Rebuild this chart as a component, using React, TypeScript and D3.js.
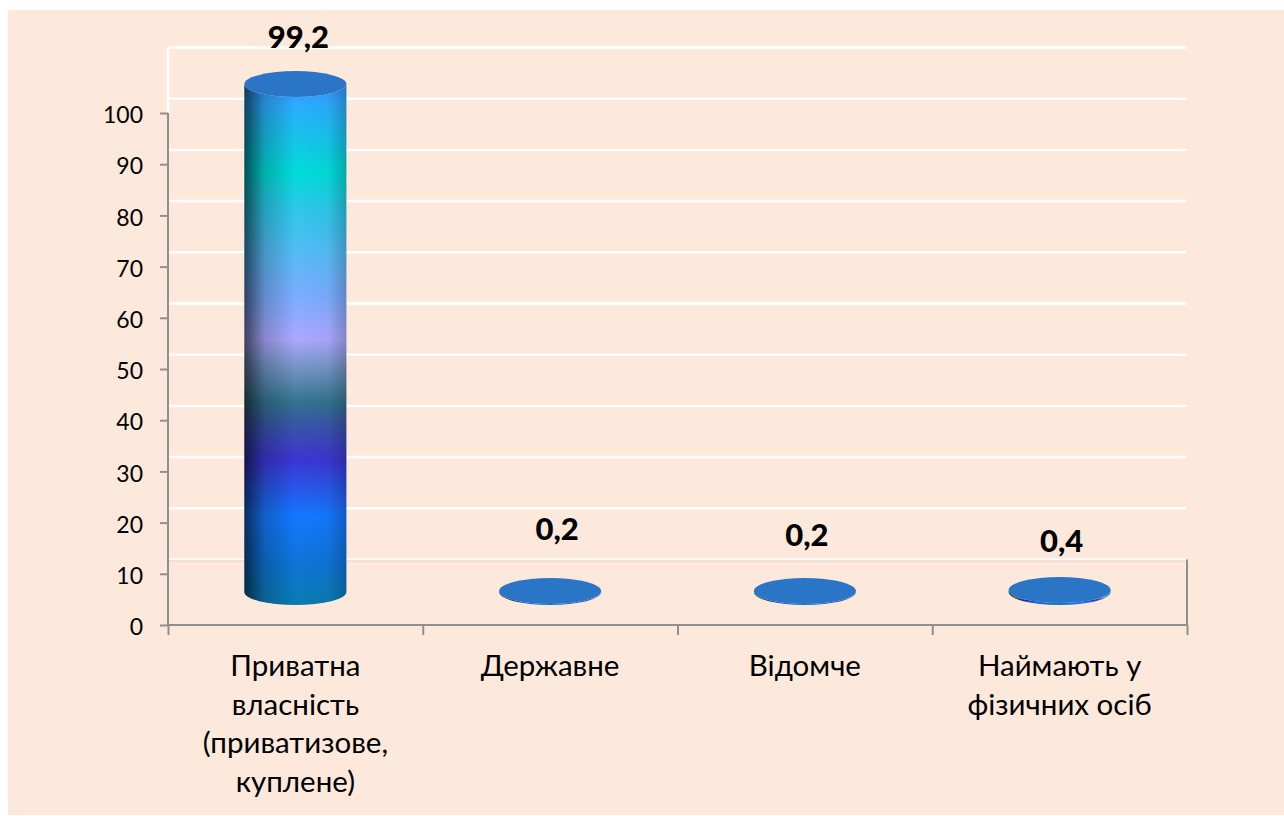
import React, { useEffect, useRef } from "react";
import * as d3 from "d3";

const categories = [
  ["Приватна", "власність", "(приватизове,", "куплене)"],
  ["Державне"],
  ["Відомче"],
  ["Наймають у", "фізичних осіб"],
];
const values = [99.2, 0.2, 0.2, 0.4];
const valueLabels = ["99,2", "0,2", "0,2", "0,4"];
const ticks = [0, 10, 20, 30, 40, 50, 60, 70, 80, 90, 100];

// stops of the big cylinder from top to bottom
const stopOffsets = [0, 0.04, 0.17, 0.24, 0.33, 0.41, 0.49, 0.54, 0.61, 0.65, 0.72, 0.83, 0.92, 1];
const stopColors = ["#3394f8", "#2cacff", "#00dcd8", "#2cc8ea", "#58baf6", "#7cacff", "#aca8ff", "#7896ca", "#33748e", "#3858a4", "#3c35d2", "#1478ff", "#0e74d8", "#0a7cb0"];

const width = 1284;
const height = 816;
const font = "Lato, 'Noto Sans', sans-serif";
const left = 168;
const right = 1187;
const depth = 65.5; // how far the back wall sits above the front axis
const barShift = 33;
const rx = 51;
const ry = 13;
// the labels were placed by hand in the original, so they do not follow the bars
const labelY = [48, 540, 546, 552];
const labelNudge = [3, 7, 2, 2];

export default function App() {
  const axisRef = useRef<SVGGElement>(null);

  const x = d3.scaleBand<number>().domain(d3.range(categories.length)).range([left, right]);
  const y = d3.scaleLinear().domain([0, 100]).range([625, 113]);

  useEffect(() => {
    const g = d3.select(axisRef.current);
    g.selectAll("*").remove();

    const yAxis = g.append("g").attr("transform", `translate(${left},0)`)
      .call(d3.axisLeft(y).tickValues(ticks).tickSize(8).tickPadding(17).tickFormat(d => String(d)));
    yAxis.selectAll("line,path").attr("stroke", "#8f8f8f").attr("stroke-width", 2);
    yAxis.select("path").attr("d", `M0,${y(100)}V${y(0)}`);
    yAxis.selectAll("text")
      .attr("font-family", font).attr("font-size", 23).attr("fill", "#000").attr("dy", "0.42em");

    const xAxis = g.append("g").attr("transform", "translate(0,625)")
      .call(d3.axisBottom(d3.scaleLinear().domain([0, 4]).range([left, right])).ticks(4).tickSize(10).tickFormat(() => ""));
    xAxis.selectAll("line,path").attr("stroke", "#8f8f8f").attr("stroke-width", 2);
    xAxis.select("path").attr("d", `M${left},0H${right}`);
  }, []);

  return (
    <svg width={width} height={height} style={{ position: "absolute", left: 0, top: 0 }}>
      <defs>
        <linearGradient id="barColors" x1="0" y1="0" x2="0" y2="1">
          {stopOffsets.map((o, i) => <stop key={i} offset={o} stopColor={stopColors[i]} />)}
        </linearGradient>
        <linearGradient id="barShade" x1="0" y1="0" x2="1" y2="0">
          <stop offset="0" stopColor="#000" stopOpacity={0.62} />
          <stop offset="0.2" stopColor="#000" stopOpacity={0.2} />
          <stop offset="0.5" stopColor="#000" stopOpacity={0} />
          <stop offset="0.82" stopColor="#000" stopOpacity={0.03} />
          <stop offset="1" stopColor="#000" stopOpacity={0.22} />
        </linearGradient>
      </defs>

      <rect x={8} y={10} width={1276} height={805} fill="#fde9db" />

      {/* back wall */}
      {ticks.map(t => (
        <line key={t} x1={left} x2={right} y1={y(t) - depth} y2={y(t) - depth}
          stroke="#fff" strokeWidth={t === 0 ? 2 : 2.5} />
      ))}
      <line x1={left} x2={left} y1={y(100) - depth} y2={y(100)} stroke="#fff" strokeWidth={2.5} />
      <line x1={left - 2} x2={right} y1={y(0) - depth + 1.5} y2={y(0) - depth + 1.5} stroke="#d9d4cf" strokeWidth={1} />
      <line x1={right} x2={right} y1={y(0) - depth} y2={y(0)} stroke="#8f8f8f" strokeWidth={2} />

      <g ref={axisRef} />

      {values.map((v, i) => {
        const cx = x(i)! + x.bandwidth() / 2;
        const y0 = y(0) - barShift;
        const y1 = y(v) - barShift;
        const bodyPath = `M${cx - rx},${y1}V${y0}A${rx},${ry} 0 0 0 ${cx + rx},${y0}V${y1}A${rx},${ry} 0 0 1 ${cx - rx},${y1}Z`;
        return (
          <g key={i}>
            <path d={bodyPath} fill="url(#barColors)" />
            <path d={bodyPath} fill="url(#barShade)" />
            <ellipse cx={cx} cy={y1} rx={rx} ry={ry} fill="#2a75c5" />
          </g>
        );
      })}

      {values.map((v, i) => (
        <text key={i} x={x(i)! + x.bandwidth() / 2 + labelNudge[i]} y={labelY[i]} textAnchor="middle"
          fontFamily={font} fontSize={31} fontWeight={900} fill="#000">
          {valueLabels[i]}
        </text>
      ))}

      {categories.map((lines, i) => (
        <text key={i} textAnchor="middle" fontFamily={font} fontSize={29.5} fill="#000">
          {lines.map((line, j) => (
            <tspan key={j} x={x(i)! + x.bandwidth() / 2} y={676 + j * 38.5}>{line}</tspan>
          ))}
        </text>
      ))}
    </svg>
  );
}
